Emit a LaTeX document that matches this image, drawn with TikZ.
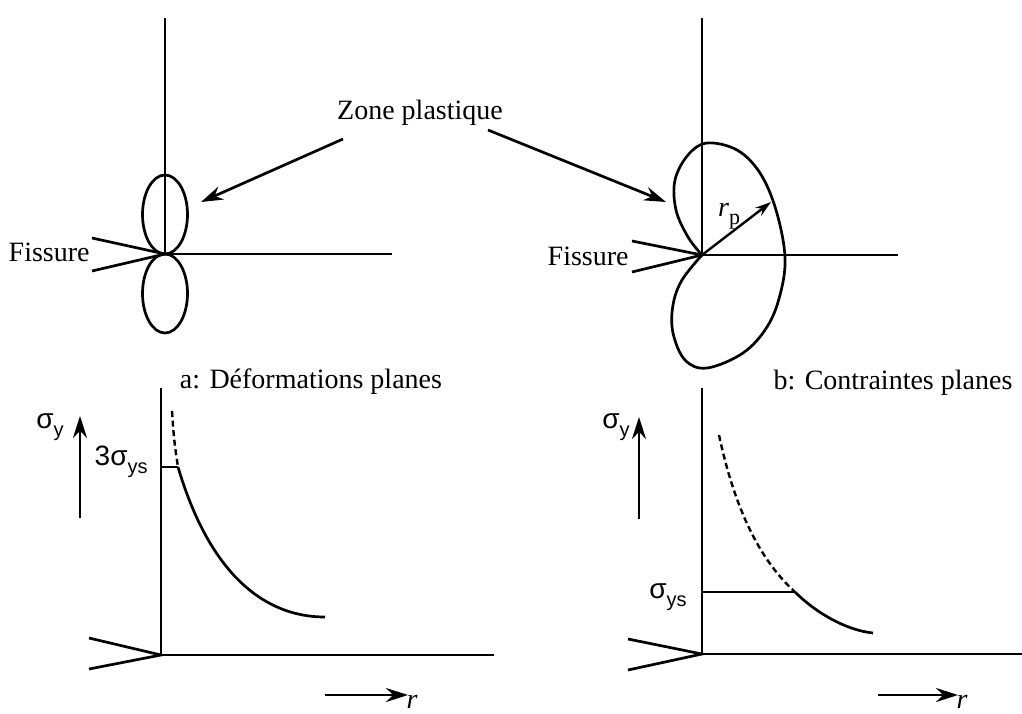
\documentclass[tikz,border=0pt]{standalone}
\usepackage{fontspec}
\setmainfont{Liberation Serif}
\newfontfamily\sigfont{Liberation Sans}
\usepackage{tikz}
\usetikzlibrary{arrows.meta, positioning}
\tikzset{
  axisline/.style={line width=1.35pt},
  crackline/.style={line width=1.35pt},
  zonecurve/.style={line width=1.35pt},
  arrow/.style={line width=1.35pt,-{Stealth[length=11pt,width=7pt]}},
  smallarrow/.style={line width=1.2pt,-{Stealth[length=8pt,width=5pt]}},
  dashedcurve/.style={line width=1.2pt,dash pattern=on 3pt off 1.8pt},
  lbl/.style={font=\fontsize{14}{16}\selectfont, inner sep=1pt}
}
\newcommand{\sigl}[1]{{\sigfont σ\raisebox{-0.55ex}{\fontsize{10}{12}\selectfont #1}}}

\begin{document}
\begin{tikzpicture}[x=0.5pt, y=-0.5pt]
\useasboundingbox (0,0) rectangle (1022,713);

% a: deformations planes
\coordinate (tipA) at (165,254);
\coordinate (topA) at (165,18);
\coordinate (endA) at (392,254);
\coordinate (lipA1) at (92,238);
\coordinate (lipA2) at (92,271);
\draw[axisline] (topA) -- (tipA) -- (endA);
\draw[crackline] (lipA1) -- (tipA) -- (lipA2);
\draw[zonecurve] (165,214.5) ellipse [x radius=11.25pt, y radius=19.75pt];
\draw[zonecurve] (165,293.5) ellipse [x radius=11.25pt, y radius=19.75pt];
\node[lbl, anchor=east] (fisA) at (92,252) {Fissure};

% b: contraintes planes
\coordinate (tipB) at (702,255);
\coordinate (topB) at (702,18);
\coordinate (endB) at (898,255);
\coordinate (lipB1) at (632,241);
\coordinate (lipB2) at (632,272);
\draw[axisline] (topB) -- (tipB) -- (endB);
\draw[crackline] (lipB1) -- (tipB) -- (lipB2);
\draw[zonecurve] plot[smooth, tension=0.6] coordinates {(702,255) (688,237) (676,210) (675,180) (688,155) (707,143) (737,150) (760,173) (776,210) (785,257) (780,295) (767,327) (743,353) (707,368) (685,360) (673,333) (673,305) (682,280) (702,255)};
\coordinate (rpEnd) at (771,202);
\draw[smallarrow] (tipB) -- (rpEnd);
\node[lbl] (rp) at (729,216) {\textit{r}\raisebox{-0.6ex}{\fontsize{11}{12}\selectfont p}};
\node[lbl, anchor=east] (fisB) at (631,256) {Fissure};

\node[lbl] (zone) at (420,113) {Zone plastique};
\coordinate (zoneA) at (343,139);
\coordinate (zoneB) at (488,130);
\coordinate (ptA) at (201,202);
\coordinate (ptB) at (666,202);
\draw[arrow] (zoneA) -- (ptA);
\draw[arrow] (zoneB) -- (ptB);

\node[lbl] (capA) at (311,382) {a: Déformations planes};
\node[lbl] (capB) at (893,383) {b: Contraintes planes};

% graphe a
\coordinate (oA) at (161,655);
\coordinate (yA) at (161,388);
\coordinate (xA) at (494,655);
\coordinate (cA1) at (89,638);
\coordinate (cA2) at (89,669);
\draw[axisline] (yA) -- (oA) -- (xA);
\draw[crackline] (cA1) -- (oA) -- (cA2);
\coordinate (sA0) at (80,518);
\coordinate (sA1) at (80,416);
\draw[arrow] (sA0) -- (sA1);
\node[lbl, anchor=east] (sigA) at (66,427) {\sigl{y}};
\node[lbl, anchor=east] (ysA) at (150,462) {{\sigfont 3}\sigl{ys}};
\coordinate (kA) at (178,467);
\draw[axisline] (161,467) -- (kA);
\draw[dashedcurve] (172,411) .. controls (174,440) .. (kA);
\draw[axisline] (kA) .. controls (210,575) and (265,617) .. (325,617);
\coordinate (rA0) at (325,695);
\coordinate (rA1) at (408,695);
\draw[arrow] (rA0) -- (rA1);
\node[lbl, font=\fontsize{14}{16}\selectfont\itshape, anchor=north] (rA) at (412,693) {r};

% graphe b
\coordinate (oB) at (702,654);
\coordinate (yB) at (702,388);
\coordinate (xB) at (1022,654);
\coordinate (cB1) at (628,639);
\coordinate (cB2) at (628,670);
\draw[axisline] (yB) -- (oB) -- (xB);
\draw[crackline] (cB1) -- (oB) -- (cB2);
\coordinate (sB0) at (639,519);
\coordinate (sB1) at (639,417);
\draw[arrow] (sB0) -- (sB1);
\node[lbl, anchor=east] (sigB) at (632,427) {\sigl{y}};
\node[lbl, anchor=east] (ysB) at (689,597) {\sigl{ys}};
\coordinate (kB) at (795,592);
\draw[axisline] (702,592) -- (kB);
\draw[dashedcurve] (719,435) .. controls (735,510) and (760,560) .. (kB);
\draw[axisline] (kB) .. controls (815,612) and (845,630) .. (873,633);
\coordinate (rB0) at (878,695);
\coordinate (rB1) at (958,695);
\draw[arrow] (rB0) -- (rB1);
\node[lbl, font=\fontsize{14}{16}\selectfont\itshape, anchor=north] (rB) at (962,693) {r};
\end{tikzpicture}
\end{document}
